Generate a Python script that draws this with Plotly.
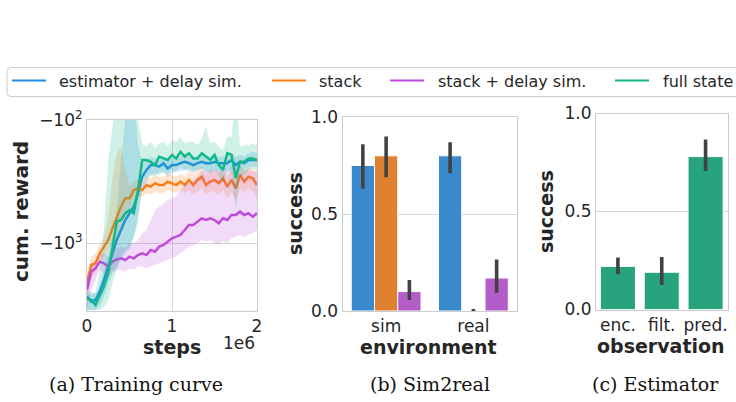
import plotly.graph_objects as go

W, H = 736, 402

# ---------------- data: (a) training curves ----------------
steps_m = [0.0, 0.05, 0.10, 0.15, 0.20, 0.25, 0.30, 0.35, 0.40, 0.45,
           0.50, 0.55, 0.60, 0.65, 0.70, 0.75, 0.80, 0.85, 0.90, 0.95,
           1.00, 1.05, 1.10, 1.15, 1.20, 1.25, 1.30, 1.35, 1.40, 1.45,
           1.50, 1.55, 1.60, 1.65, 1.70, 1.75, 1.80, 1.85, 1.90, 1.95, 2.00]

est_mean = [-2704, -2972, -2877, -2466, -1982, -1545, -1205, -940, -780, -647,
            -571, -505, -393, -288, -254, -232, -232, -239, -224, -247,
            -232, -232, -224, -218, -224, -232, -224, -218, -224, -224,
            -218, -224, -224, -224, -211, -232, -218, -224, -211, -211, -211]
est_upper = [-2466, -2624, -2541, -2109, -1644, -1205, -883, -537, -211, -100,
             -60, -60, -155, -224, -211, -198, -205, -211, -198, -211,
             -205, -205, -198, -186, -198, -205, -198, -192, -198, -198,
             -192, -198, -198, -198, -186, -198, -192, -198, -186, -181, -186]
est_lower = [-3475, -3475, -3475, -3266, -2704, -2109, -1750, -1545, -1365, -1205,
             -1132, -883, -608, -370, -316, -279, -271, -279, -262, -288,
             -271, -262, -262, -254, -262, -271, -254, -247, -262, -262,
             -254, -262, -254, -262, -247, -288, -247, -254, -239, -239, -239]

stack_mean = [-2109, -1500, -1452, -1205, -1064, -940, -755, -608, -505, -432,
              -432, -370, -358, -370, -337, -347, -326, -337, -337, -316,
              -326, -337, -316, -337, -306, -337, -306, -288, -337, -316,
              -306, -326, -297, -347, -306, -358, -279, -316, -288, -297, -337]
stack_upper = [-1750, -1282, -1205, -1000, -883, -608, -288, -186, -164, -254,
               -347, -316, -306, -316, -288, -297, -279, -288, -288, -271,
               -279, -288, -271, -288, -262, -279, -254, -239, -279, -262,
               -254, -271, -247, -288, -254, -297, -232, -262, -239, -247, -271]
stack_lower = [-2704, -1862, -1750, -1452, -1282, -1132, -1000, -883, -733, -608,
               -537, -432, -419, -419, -393, -406, -381, -393, -393, -370,
               -381, -393, -370, -393, -370, -406, -381, -358, -406, -381,
               -381, -406, -370, -432, -381, -446, -358, -393, -358, -381, -432]

sdel_mean = [-2388, -1698, -1596, -1409, -1452, -1545, -1409, -1349, -1324, -1365,
             -1282, -1324, -1245, -1205, -1245, -1132, -1169, -1064, -1032, -968,
             -910, -883, -855, -780, -710, -710, -667, -627, -647, -627,
             -647, -688, -627, -647, -589, -589, -554, -589, -571, -608, -571]
sdel_upper = [-1862, -1500, -1409, -1205, -1205, -1282, -1132, -1099, -1064, -1099,
              -1000, -1000, -940, -830, -780, -647, -537, -505, -474, -446,
              -432, -419, -370, -326, -326, -306, -288, -254, -262, -254,
              -247, -262, -247, -254, -239, -239, -239, -254, -254, -262, -262]
sdel_lower = [-3475, -2388, -1982, -1644, -1750, -1862, -1698, -1644, -1644, -1698,
              -1596, -1644, -1545, -1545, -1596, -1545, -1500, -1452, -1409, -1365,
              -1324, -1282, -1205, -1132, -1064, -1032, -1000, -940, -968, -940,
              -1000, -1032, -968, -1000, -910, -883, -855, -883, -855, -830, -780]

full_mean = [-2793, -2877, -3162, -2704, -2244, -1750, -1064, -667, -647, -571,
             -537, -571, -370, -211, -211, -218, -232, -198, -205, -211,
             -192, -205, -181, -198, -186, -205, -205, -186, -198, -211,
             -192, -232, -254, -186, -192, -297, -218, -218, -205, -205, -211]
full_upper = [-2388, -2466, -2541, -1644, -733, -211, -100, -60, -60, -60,
              -60, -60, -100, -155, -164, -150, -170, -155, -150, -164,
              -145, -150, -137, -155, -150, -150, -160, -141, -113, -155,
              -150, -164, -175, -137, -137, -60, -164, -160, -160, -155, -160]
full_lower = [-3475, -3475, -3475, -3475, -3266, -2877, -2109, -1644, -1282, -1132,
              -1064, -883, -688, -306, -288, -279, -288, -262, -271, -271,
              -254, -262, -239, -254, -247, -262, -254, -247, -262, -271,
              -247, -288, -326, -247, -271, -537, -288, -279, -254, -247, -262]

reward_ticks = [-100, -1000]
reward_ticktext = ["−10<sup>2</sup>", "−10<sup>3</sup>"]
step_ticks_m = [0, 1, 2]

# ---------------- data: (b) sim2real ----------------
env_cats = ["sim", "real"]
b_est = [0.75, 0.80]
b_est_lo = [0.63, 0.71]
b_est_hi = [0.86, 0.87]
b_stack = [0.80, 0.0]
b_stack_lo = [0.69, 0.0]
b_stack_hi = [0.90, 0.01]
b_sdel = [0.10, 0.17]
b_sdel_lo = [0.057, 0.094]
b_sdel_hi = [0.16, 0.266]

# ---------------- data: (c) estimator ----------------
obs_cats = ["enc.", "filt.", "pred."]
c_succ = [0.22, 0.19, 0.78]
c_lo = [0.18, 0.125, 0.707]
c_hi = [0.265, 0.268, 0.867]

success_ticks = [0.0, 0.5, 1.0]
success_ticktext = ["0.0", "0.5", "1.0"]

series_names = ["estimator + delay sim.", "stack", "stack + delay sim.", "full state"]
line_colors = ["#228be6", "#fd7e14", "#be4bdb", "#12b886"]
band_colors = ["rgba(34,139,230,0.2)", "rgba(253,126,20,0.2)",
               "rgba(190,75,219,0.2)", "rgba(18,184,134,0.2)"]
bar_colors = ["#3a89cd", "#e08131", "#b35dc9", "#27a37e"]

for arr in [est_mean, est_upper, est_lower, stack_mean, stack_upper, stack_lower,
            sdel_mean, sdel_upper, sdel_lower, full_mean, full_upper, full_lower]:
    assert len(arr) == len(steps_m)

TXT = "#262626"
GRID = "#d6d6d6"
FONT = "DejaVu Sans"


def px(x):
    return x / W


def py(y):
    return 1 - y / H


fig = go.Figure()

# ---- (a) curves: plotted as magnitude on a reversed log axis ----
steps = [s * 1e6 for s in steps_m]
curves = [(est_mean, est_upper, est_lower), (stack_mean, stack_upper, stack_lower),
          (sdel_mean, sdel_upper, sdel_lower), (full_mean, full_upper, full_lower)]
for i, (m, u, lo) in enumerate(curves):
    fig.add_trace(go.Scatter(x=steps, y=[-v for v in u], mode="lines",
                             line=dict(width=0, color=line_colors[i]),
                             hoverinfo="skip", showlegend=False, xaxis="x", yaxis="y"))
    fig.add_trace(go.Scatter(x=steps, y=[-v for v in lo], mode="lines",
                             line=dict(width=0, color=line_colors[i]),
                             fill="tonexty", fillcolor=band_colors[i],
                             hoverinfo="skip", showlegend=False, xaxis="x", yaxis="y"))
    fig.add_trace(go.Scatter(x=steps, y=[-v for v in m], mode="lines",
                             name=series_names[i],
                             line=dict(width=2.5, color=line_colors[i]),
                             showlegend=False, xaxis="x", yaxis="y"))

# ---- (b) bars ----
ebar = dict(type="data", thickness=3.6, width=0, color="#424242")
for vals, lo, hi, col, nm in [(b_est, b_est_lo, b_est_hi, bar_colors[0], series_names[0]),
                              (b_stack, b_stack_lo, b_stack_hi, bar_colors[1], series_names[1]),
                              (b_sdel, b_sdel_lo, b_sdel_hi, bar_colors[2], series_names[2])]:
    fig.add_trace(go.Bar(x=env_cats, y=vals, name=nm, marker=dict(color=col, line=dict(color="white", width=1)),
                         error_y=dict(ebar, array=[h - v for h, v in zip(hi, vals)],
                                      arrayminus=[v - l for v, l in zip(vals, lo)]),
                         showlegend=False, xaxis="x2", yaxis="y2"))

# ---- (c) bars ----
fig.add_trace(go.Bar(x=obs_cats, y=c_succ, marker=dict(color=bar_colors[3], line=dict(color="white", width=1)),
                     error_y=dict(ebar, array=[h - v for h, v in zip(c_hi, c_succ)],
                                  arrayminus=[v - l for v, l in zip(c_succ, c_lo)]),
                     showlegend=False, xaxis="x3", yaxis="y3"))

axis_common = dict(showline=True, linecolor="#cccccc", linewidth=1, mirror=True,
                   ticks="", zeroline=False, gridcolor=GRID, gridwidth=1, automargin=False,
                   tickfont=dict(family=FONT, size=17, color=TXT))
xstand = dict(ticklabelstandoff=0)
ystand = dict(ticklabelstandoff=0)

fig.update_layout(
    width=W, height=H, autosize=False,
    margin=dict(l=0, r=0, t=0, b=0, pad=0, autoexpand=False),
    paper_bgcolor="white", plot_bgcolor="white", showlegend=False,
    barmode="group", bargap=0.2, bargroupgap=0,
    font=dict(family=FONT, color=TXT),
    xaxis=dict(axis_common, **xstand, domain=[px(87), px(257)], anchor="y", range=[0, 2e6],
               tickvals=[t * 1e6 for t in step_ticks_m], ticktext=[str(t) for t in step_ticks_m],
               showgrid=True),
    yaxis=dict(axis_common, **ystand, domain=[py(311), py(120)], anchor="x", type="log",
               range=[3.549, 2.0], tickvals=[-v for v in reward_ticks], ticktext=reward_ticktext,
               showgrid=True),
    xaxis2=dict(axis_common, **xstand, domain=[px(342.5), px(517)], anchor="y2", range=[-0.5, 1.5],
                showgrid=False, type="category"),
    yaxis2=dict(axis_common, **ystand, domain=[py(311), py(117)], anchor="x2", range=[0, 1],
                tickvals=success_ticks, ticktext=success_ticktext, showgrid=True),
    xaxis3=dict(axis_common, **xstand, domain=[px(596), px(727.5)], anchor="y3", range=[-0.5, 2.5],
                showgrid=False, type="category"),
    yaxis3=dict(axis_common, **ystand, domain=[py(309.5), py(113.5)], anchor="x3", range=[0, 1],
                tickvals=success_ticks, ticktext=success_ticktext, showgrid=True),
)

ann = []
title_font = dict(family=FONT, size=19, color=TXT)
ann.append(dict(text="<b>cum. reward</b>", x=px(21), y=py(212), textangle=-90,
                font=dict(family=FONT, size=20, color=TXT)))
ann.append(dict(text="<b>steps</b>", x=px(172), y=py(347), font=title_font))
ann.append(dict(text="1e6", x=px(257), y=py(343), xanchor="right", font=dict(family=FONT, size=17, color=TXT)))
ann.append(dict(text="<b>success</b>", x=px(295), y=py(214), textangle=-90, font=title_font))
ann.append(dict(text="<b>environment</b>", x=px(429), y=py(347), font=title_font))
ann.append(dict(text="<b>success</b>", x=px(546), y=py(212), textangle=-90, font=title_font))
ann.append(dict(text="<b>observation</b>", x=px(661), y=py(346), font=title_font))

cap_font = dict(family="DejaVu Serif", size=19, color="#111111")
ann.append(dict(text="(a) Training curve", x=px(136), y=py(384), font=cap_font))
ann.append(dict(text="(b) Sim2real", x=px(430), y=py(384), font=cap_font))
ann.append(dict(text="(c) Estimator", x=px(655), y=py(384), font=cap_font))

# legend (manual, single row)
leg_line_x = [12, 272, 390, 615]
leg_text_x = [57, 317, 436, 661]
leg_y = 81
for i in range(4):
    ann.append(dict(text=series_names[i], x=px(leg_text_x[i]), y=py(leg_y), xanchor="left",
                    font=dict(family=FONT, size=16, color=TXT)))

for a in ann:
    a.setdefault("xref", "paper")
    a.setdefault("yref", "paper")
    a.setdefault("showarrow", False)
    a.setdefault("xanchor", "center")
    a.setdefault("yanchor", "middle")
fig.update_layout(annotations=ann)

shapes = []
# rounded legend frame
x0, x1, y0, y1, r = 7, 745, 67.5, 96.5, 4
path = (f"M {px(x0 + r)},{py(y0)} L {px(x1)},{py(y0)} L {px(x1)},{py(y1)} L {px(x0 + r)},{py(y1)} "
        f"Q {px(x0)},{py(y1)} {px(x0)},{py(y1 - r)} L {px(x0)},{py(y0 + r)} "
        f"Q {px(x0)},{py(y0)} {px(x0 + r)},{py(y0)} Z")
shapes.append(dict(type="path", xref="paper", yref="paper", path=path,
                   line=dict(color="#cccccc", width=1), fillcolor="white"))
for i in range(4):
    shapes.append(dict(type="line", xref="paper", yref="paper",
                       x0=px(leg_line_x[i]), x1=px(leg_line_x[i] + 34), y0=py(leg_y - 0.5), y1=py(leg_y - 0.5),
                       line=dict(color=line_colors[i], width=2.2)))
fig.update_layout(shapes=shapes)

fig.write_html("out.html", config={"responsive": False},
               post_script="document.documentElement.style.margin='0';document.body.style.margin='0';"
                           "document.body.style.padding='0';document.body.style.overflow='hidden';")
